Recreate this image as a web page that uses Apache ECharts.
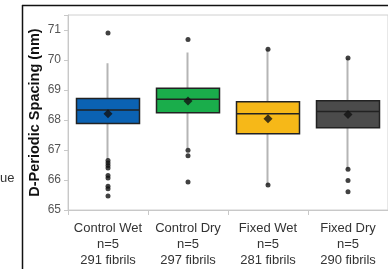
<!DOCTYPE html>
<html>
<head>
<meta charset="utf-8">
<script src="https://cdn.jsdelivr.net/npm/echarts@6/dist/echarts.min.js"></script>
<style>
  html, body { margin: 0; padding: 0; background: #fff; }
  #main { width: 388px; height: 269px; }
</style>
</head>
<body>
<div id="main"></div>
<script>
// groups and their labels
var categories = ['Control Wet\nn=5\n291 fibrils', 'Control Dry\nn=5\n297 fibrils', 'Fixed Wet\nn=5\n281 fibrils', 'Fixed Dry\nn=5\n290 fibrils'];
var boxColors = ['#0b62b3', '#1aad4b', '#f6b818', '#4b4b4b'];
// [whisker low, Q1, median, Q3, whisker high]
var boxStats = [
  [66.7, 67.88, 68.33, 68.72, 69.89],
  [67.07, 68.24, 68.69, 69.06, 70.25],
  [65.83, 67.54, 68.21, 68.61, 70.36],
  [66.36, 67.74, 68.28, 68.64, 70.07]
];
var means = [68.21, 68.63, 68.04, 68.18];
// outliers per group
var outliers = [
  [70.9, 66.65, 66.57, 66.48, 66.4, 66.15, 66.07, 65.79, 65.71, 65.47],
  [70.68, 66.99, 66.81, 65.93],
  [70.36, 65.83],
  [70.07, 66.36, 65.98, 65.61]
];
var yTicks = [65, 66, 67, 68, 69, 70, 71];

var font = 'Liberation Sans, Arial, sans-serif';

var whiskerData = boxStats.map(function (s) {
  return [s[2], s[2], s[0], s[4]]; // open, close, low, high
});
var boxData = boxStats.map(function (s, i) {
  return {
    value: [s[1], s[1], s[2], s[3], s[3]],
    itemStyle: { color: boxColors[i] }
  };
});
var outlierData = [];
outliers.forEach(function (arr, i) {
  arr.forEach(function (v) { outlierData.push([i, v]); });
});
var meanData = means.map(function (v, i) { return [i, v]; });

var chart = echarts.init(document.getElementById('main'), null, { renderer: 'canvas' });
chart.setOption({
  animation: false,
  grid: {
    left: 68, right: -1, top: 15, bottom: 59,
    show: true, borderColor: '#d0d0d0', borderWidth: 1
  },
  xAxis: {
    type: 'category',
    data: categories,
    boundaryGap: true,
    axisLine: { lineStyle: { color: '#c8c8c8' } },
    axisTick: { show: true, length: 5, lineStyle: { color: '#c8c8c8' } },
    axisLabel: { color: '#333', fontSize: 13, lineHeight: 16, margin: 10, fontFamily: font, interval: 0 },
    splitLine: { show: false }
  },
  yAxis: {
    type: 'value',
    min: 65, max: 71.5, interval: 1,
    name: 'D-Periodic Spacing (nm)',
    nameLocation: 'middle',
    nameGap: 26,
    nameMoveOverlap: false,
    nameTextStyle: { fontSize: 14.5, fontWeight: 'bold', color: '#111', fontFamily: font },
    axisLine: { show: true, lineStyle: { color: '#c8c8c8' } },
    axisTick: { show: true, length: 4, lineStyle: { color: '#c8c8c8' } },
    axisLabel: {
      color: '#555', fontSize: 12, margin: 7, fontFamily: font,
      formatter: function (v) { return yTicks.indexOf(v) >= 0 ? String(v) : ''; }
    },
    splitLine: { show: false }
  },
  graphic: [
    { type: 'line', shape: { x1: 22, y1: 5.5, x2: 388, y2: 5.5 }, style: { stroke: '#111', lineWidth: 1.5 } },
    { type: 'line', shape: { x1: 22.5, y1: 5, x2: 22.5, y2: 269 }, style: { stroke: '#111', lineWidth: 1.5 } },
    { type: 'text', left: 0, top: 172, style: { text: 'ue', fontSize: 13, fill: '#333', font: '13px ' + font } }
  ],
  series: [
    {
      type: 'candlestick',
      data: whiskerData,
      barWidth: 60,
      itemStyle: {
        color: '#b5b5b5', color0: '#b5b5b5',
        borderColor: '#b5b5b5', borderColor0: '#b5b5b5', borderWidth: 2
      }
    },
    {
      type: 'boxplot',
      data: boxData,
      boxWidth: [63, 63],
      itemStyle: { borderColor: '#222', borderWidth: 1.5 }
    },
    {
      type: 'scatter',
      data: outlierData,
      symbol: 'circle',
      symbolSize: 5,
      itemStyle: { color: '#111' },
      z: 5
    },
    {
      type: 'scatter',
      data: meanData,
      symbol: 'diamond',
      symbolSize: 9,
      itemStyle: { color: '#111' },
      z: 6
    }
  ]
});
</script>
</body>
</html>
